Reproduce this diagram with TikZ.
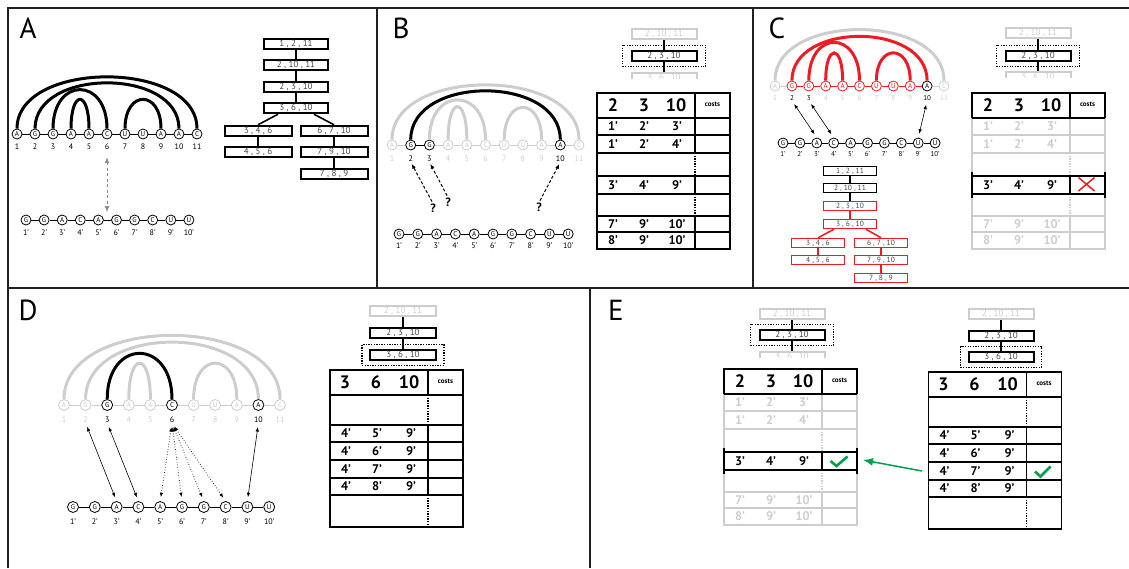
\documentclass[tikz,border=0pt]{standalone}
\usepackage{fontspec}
\setmainfont{PT Sans}
\usepackage{tikz}
\usetikzlibrary{arrows.meta,calc,fit,positioning}
\definecolor{fade}{RGB}{205,205,205}
\definecolor{pairred}{RGB}{237,28,36}
\definecolor{okgreen}{RGB}{0,160,75}
\definecolor{framegray}{RGB}{35,31,32}
\definecolor{boxtext}{RGB}{70,70,72}
\definecolor{guidegray}{RGB}{140,140,140}

\begin{document}
\begin{tikzpicture}[x=1pt,y=-1pt,
  nuc/.style={circle,draw,fill=white,line width=0.8pt,minimum size=10pt,inner sep=0pt,font=\fontsize{7}{7}\selectfont},
  bon/.style={draw=black,text=black},
  boff/.style={draw=fade,text=fade},
  bred/.style={draw=pairred,text=pairred},
  idx/.style={inner sep=0pt,font=\fontsize{8}{8}\selectfont},
  bond/.style={line width=3pt},
  seg/.style={line width=0.9pt},
  tbox/.style={draw,line width=2pt,minimum width=64pt,minimum height=10.5pt,inner sep=0pt,text=boxtext,font=\fontsize{9}{9}\selectfont},
  sbox/.style={draw,line width=1.7pt,minimum width=53pt,minimum height=8.8pt,inner sep=0pt,text=boxtext,font=\fontsize{7.5}{7.5}\selectfont},
  dim/.style={draw=fade,text=fade},
  focus/.style={draw=black,line width=1.3pt,dash pattern=on 1.3pt off 1.3pt,inner xsep=8pt,inner ysep=4.5pt},
  panel/.style={inner sep=0pt,font=\fontsize{29}{29}\selectfont},
  tline/.style={line width=1.7pt},
  rline/.style={line width=1.1pt},
  hd/.style={inner sep=0pt,font=\bfseries\fontsize{18}{18}\selectfont},
  cell/.style={inner sep=0pt,font=\bfseries\fontsize{12.5}{12.5}\selectfont},
  cst/.style={inner sep=0pt,font=\bfseries\fontsize{7}{7}\selectfont},
  qm/.style={inner sep=0pt,font=\bfseries\fontsize{12}{12}\selectfont},
  qarrow/.style={-{Latex[length=5pt,width=4pt]},line width=1pt,dash pattern=on 3pt off 2pt,shorten <=2pt,shorten >=2pt},
  duo/.style={{Latex[length=4.5pt,width=3.5pt]}-{Latex[length=4.5pt,width=3.5pt]},line width=0.6pt,shorten <=4pt,shorten >=4pt},
  frameline/.style={draw=framegray,line width=2.5pt}
]
\useasboundingbox (0,0) rectangle (1129,568);

\draw[frameline] (8,568) -- (8,8) -- (1129,8);
\draw[frameline] (8,288) -- (1129,288);
\draw[frameline] (377,8) -- (377,288) (753,8) -- (753,288) (590,288) -- (590,568);

\node[panel] (labA) at (28,28) {A};
\node[panel] (labB) at (401,28) {B};
\node[panel] (labC) at (777,28) {C};
\node[panel] (labD) at (28,310) {D};
\node[panel] (labE) at (616,310) {E};

% panel A
\foreach \nt [count=\i] in {A,G,G,A,A,C,U,U,A,A,C} {
  \node[nuc,bon] (a\i) at ({17+18*(\i-1)},134) {\nt};
  \node[idx] (an\i) at ($(a\i)+(0,13)$) {\i};
}
\foreach \i in {1,...,10} {\pgfmathtruncatemacro\j{\i+1}\draw[seg] (a\i) -- (a\j);}
\draw[bond] (a1.north) .. controls +(0,-69) and +(0,-69) .. (a11.north);
\draw[bond] (a2.north) .. controls +(0,-61) and +(0,-61) .. (a10.north);
\draw[bond] (a3.north) .. controls +(0,-52) and +(0,-52) .. (a6.north);
\draw[bond] (a4.north) .. controls +(0,-39) and +(0,-39) .. (a5.north);
\draw[bond] (a7.north) .. controls +(0,-39) and +(0,-39) .. (a9.north);
\foreach \nt [count=\i] in {G,G,A,C,A,G,G,C,U,U} {
  \node[nuc,bon] (ap\i) at ({26+18.1*(\i-1)},220) {\nt};
  \node[idx] (apn\i) at ($(ap\i)+(0,13)$) {\i’};
}
\foreach \i in {1,...,9} {\pgfmathtruncatemacro\j{\i+1}\draw[seg] (ap\i) -- (ap\j);}
\draw[draw=guidegray,line width=1pt,dash pattern=on 3pt off 2.5pt] ($(an6.south)+(0,12)$) -- ($(an6.south)+(0,57)$);
\draw[-{Latex[length=6pt,width=5pt]},draw=guidegray,fill=guidegray,line width=1pt] ($(an6.south)+(0,13)$) -- ($(an6.south)+(0,7)$);
\draw[-{Latex[length=6pt,width=5pt]},draw=guidegray,fill=guidegray,line width=1pt] ($(an6.south)+(0,56)$) -- ($(an6.south)+(0,62)$);

\node[tbox] (at1) at (296,44) {1 , 2 , 11};
\node[tbox] (at2) at (296,65) {2 , 10 , 11};
\node[tbox] (at3) at (296,87) {2 , 3 , 10};
\node[tbox] (at4) at (296,108) {3 , 6 , 10};
\node[tbox,minimum width=67pt] (at5) at (258,131) {3 , 4 , 6};
\node[tbox,minimum width=67pt] (at6) at (334,131) {6 , 7 , 10};
\node[tbox,minimum width=67pt] (at7) at (258,152) {4 , 5 , 6};
\node[tbox,minimum width=67pt] (at8) at (334,152) {7 , 9 , 10};
\node[tbox,minimum width=67pt] (at9) at (334,174) {7 , 8 , 9};
\draw[line width=2pt] (at1) -- (at2) (at2) -- (at3) (at3) -- (at4) (at5) -- (at7) (at6) -- (at8) (at8) -- (at9);
\draw[line width=1.6pt] ($(at4.south)+(-18,0)$) -- (at5.north) ($(at4.south)+(18,0)$) -- (at6.north);

% panel B
\foreach \nt/\st/\lc [count=\i] in {A/boff/fade,G/bon/black,G/bon/black,A/boff/fade,A/boff/fade,C/boff/fade,U/boff/fade,U/boff/fade,A/boff/fade,A/bon/black,C/boff/fade} {
  \node[nuc,\st] (b\i) at ({392+18.7*(\i-1)},145) {\nt};
  \node[idx,text=\lc] (bn\i) at ($(b\i)+(0,14)$) {\i};
}
\foreach \lc [count=\i] in {fade,black,fade,fade,fade,fade,fade,fade,fade,fade} {\pgfmathtruncatemacro\j{\i+1}\draw[seg,draw=\lc] (b\i) -- (b\j);}
\draw[bond,draw=fade] (b1.north) .. controls +(0,-73) and +(0,-73) .. (b11.north);
\draw[bond,draw=fade] (b3.north) .. controls +(0,-53) and +(0,-53) .. (b6.north);
\draw[bond,draw=fade] (b4.north) .. controls +(0,-44) and +(0,-44) .. (b5.north);
\draw[bond,draw=fade] (b7.north) .. controls +(0,-43) and +(0,-43) .. (b9.north);
\draw[bond] (b2.north) .. controls +(0,-65) and +(0,-65) .. (b10.north);
\foreach \nt [count=\i] in {G,G,A,C,A,G,G,C,U,U} {
  \node[nuc,bon] (bp\i) at ({399+18.8*(\i-1)},234) {\nt};
  \node[idx] (bpn\i) at ($(bp\i)+(0,12)$) {\i’};
}
\foreach \i in {1,...,9} {\pgfmathtruncatemacro\j{\i+1}\draw[seg] (bp\i) -- (bp\j);}
\node[qm] (q1) at (433,208) {?};
\node[qm] (q2) at (448,202) {?};
\node[qm] (q3) at (539,207) {?};
\draw[qarrow] (q1.north) -- (bn2.south);
\draw[qarrow] (q2.north) -- (bn3.south);
\draw[qarrow] (q3.north) -- (bn10.south);

\node[tbox,dim,minimum width=65pt] (bm1) at (664,34) {2 , 10 , 11};
\node[tbox,minimum width=65pt] (bm2) at (664,56) {2 , 3 , 10};
\begin{scope}
  \clip (620,68) rectangle (710,78.5);
  \node[tbox,dim,minimum width=65pt] (bm3) at (664,78) {3 , 6 , 10};
\end{scope}
\draw[line width=1.6pt] (bm1) -- (bm2) (bm2) -- (bm3.north);
\node[focus,fit=(bm2)] (bf) {};

\begin{scope}[shift={(597,93)}]
  \draw[tline] (0,0) rectangle (133,156);
  \draw[line width=2pt] (0,25) -- (133,25);
  \foreach \y in {42,60,83,101,123,139} \draw[rline] (0,\y) -- (133,\y);
  \draw[tline] (98,0) -- (98,60) (98,83) -- (98,101) (98,123) -- (98,156);
  \draw[tline,dash pattern=on 1.3pt off 1.3pt] (98,60) -- (98,83) (98,101) -- (98,123);
  \node[hd] (bh1) at (16,12.5) {2};
  \node[hd] (bh2) at (47,12.5) {3};
  \node[hd] (bh3) at (79,12.5) {10};
  \node[cst] (bh4) at (115.5,11) {costs};
  \foreach \ya/\pa/\pb/\pc [count=\rr] in {33.5/1/2/3,51/1/2/4,92/3/4/9,131/7/9/10,147.5/8/9/10} {
    \node[cell] (bc\rr-1) at (16,\ya) {\pa’};
    \node[cell] (bc\rr-2) at (47,\ya) {\pb’};
    \node[cell] (bc\rr-3) at (80,\ya) {\pc’};
  }
\end{scope}

% panel C
\foreach \nt/\st/\lc [count=\i] in {A/boff/fade,G/bred/black,G/bred/black,A/bred/fade,A/bred/fade,C/bred/fade,U/bred/fade,U/bred/fade,A/bred/fade,A/bon/black,C/boff/fade} {
  \node[nuc,\st] (c\i) at ({775+16.9*(\i-1)},86) {\nt};
  \node[idx,text=\lc,font=\fontsize{7}{7}\selectfont] (cn\i) at ($(c\i)+(0,12)$) {\i};
}
\foreach \lc [count=\i] in {fade,pairred,pairred,pairred,pairred,pairred,pairred,pairred,pairred,fade} {\pgfmathtruncatemacro\j{\i+1}\draw[seg,draw=\lc] (c\i) -- (c\j);}
\draw[bond,draw=fade] (c1.north) .. controls +(0,-68) and +(0,-68) .. (c11.north);
\draw[bond,draw=pairred] (c2.north) .. controls +(0,-59) and +(0,-59) .. (c10.north);
\draw[bond,draw=pairred] (c3.north) .. controls +(0,-51) and +(0,-51) .. (c6.north);
\draw[bond,draw=pairred] (c4.north) .. controls +(0,-37) and +(0,-37) .. (c5.north);
\draw[bond,draw=pairred] (c7.north) .. controls +(0,-37) and +(0,-37) .. (c9.north);
\foreach \nt [count=\i] in {G,G,A,C,A,G,G,C,U,U} {
  \node[nuc,bon] (cp\i) at ({783+16.9*(\i-1)},143) {\nt};
  \node[idx,font=\fontsize{7}{7}\selectfont] (cpn\i) at ($(cp\i)+(0,11)$) {\i’};
}
\foreach \i in {1,...,9} {\pgfmathtruncatemacro\j{\i+1}\draw[seg] (cp\i) -- (cp\j);}
\draw[duo] (cn2.south) -- (cp3.north);
\draw[duo] (cn3.south) -- (cp4.north);
\draw[duo] (cn10.south) -- (cp9.north);

\node[sbox] (ct1) at (850,171) {1 , 2 , 11};
\node[sbox] (ct2) at (850,188) {2 , 10 , 11};
\node[sbox,draw=pairred] (ct3) at (850,206) {2 , 3 , 10};
\node[sbox,draw=pairred] (ct4) at (850,224) {3 , 6 , 10};
\node[sbox,draw=pairred] (ct5) at (818,243) {3 , 4 , 6};
\node[sbox,draw=pairred] (ct6) at (881,243) {6 , 7 , 10};
\node[sbox,draw=pairred] (ct7) at (818,260) {4 , 5 , 6};
\node[sbox,draw=pairred] (ct8) at (881,260) {7 , 9 , 10};
\node[sbox,draw=pairred] (ct9) at (881,278) {7 , 8 , 9};
\draw[line width=1.7pt] (ct1) -- (ct2) (ct2) -- (ct3);
\draw[line width=1.7pt,draw=pairred] (ct3) -- (ct4) (ct5) -- (ct7) (ct6) -- (ct8) (ct8) -- (ct9);
\draw[line width=1.5pt,draw=pairred] ($(ct4.south)+(-16,0)$) -- (ct5.north) ($(ct4.south)+(16,0)$) -- (ct6.north);

\node[tbox,dim,minimum width=65pt] (cm1) at (1038,33) {2 , 10 , 11};
\node[tbox,minimum width=65pt] (cm2) at (1038,56) {2 , 3 , 10};
\begin{scope}
  \clip (995,68) rectangle (1085,77.5);
  \node[tbox,dim,minimum width=65pt] (cm3) at (1038,77) {3 , 6 , 10};
\end{scope}
\draw[line width=1.6pt] (cm1) -- (cm2) (cm2) -- (cm3.north);
\node[focus,fit=(cm2)] (cf) {};

\begin{scope}[shift={(972,93)}]
  \draw[tline,draw=fade] (0,25) -- (0,156) -- (133,156) -- (133,25);
  \foreach \y in {42,60,123,139} \draw[rline,draw=fade] (0,\y) -- (133,\y);
  \draw[tline,draw=fade] (98,25) -- (98,60) (98,123) -- (98,156);
  \draw[tline,draw=fade,dash pattern=on 1.3pt off 1.3pt] (98,60) -- (98,83) (98,101) -- (98,123);
  \draw[tline] (0,25) -- (0,0) -- (133,0) -- (133,25) (98,0) -- (98,25);
  \draw[line width=2pt] (0,25) -- (133,25);
  \draw[line width=1.8pt] (0,83) -- (133,83) (0,101) -- (133,101) (98,83) -- (98,101);
  \draw[line width=1.8pt] (0,79) -- (0,105) (133,79) -- (133,105);
  \node[hd] (ch1) at (16,12.5) {2};
  \node[hd] (ch2) at (47,12.5) {3};
  \node[hd] (ch3) at (79,12.5) {10};
  \node[cst] (ch4) at (115.5,11) {costs};
  \foreach \ya/\pa/\pb/\pc/\lc [count=\rr] in {33.5/1/2/3/fade,51/1/2/4/fade,92/3/4/9/black,131/7/9/10/fade,147.5/8/9/10/fade} {
    \node[cell,text=\lc] (cc\rr-1) at (16,\ya) {\pa’};
    \node[cell,text=\lc] (cc\rr-2) at (47,\ya) {\pb’};
    \node[cell,text=\lc] (cc\rr-3) at (80,\ya) {\pc’};
  }
  \draw[pairred,line width=1.5pt] (106.5,84.5) -- (122.5,98) (106.5,98) -- (122.5,84.5);
\end{scope}

% panel D
\foreach \nt/\st/\lc [count=\i] in {A/boff/fade,G/boff/fade,G/bon/black,A/boff/fade,A/boff/fade,C/bon/black,U/boff/fade,U/boff/fade,A/boff/fade,A/bon/black,C/boff/fade} {
  \node[nuc,\st,minimum size=11pt] (d\i) at ({64+21.6*(\i-1)},405) {\nt};
  \node[idx,text=\lc] (dn\i) at ($(d\i)+(0,15)$) {\i};
}
\foreach \i in {1,...,10} {\pgfmathtruncatemacro\j{\i+1}\draw[seg,draw=fade] (d\i) -- (d\j);}
\draw[bond,draw=fade] (d1.north) .. controls +(0,-85) and +(0,-85) .. (d11.north);
\draw[bond,draw=fade] (d2.north) .. controls +(0,-76) and +(0,-76) .. (d10.north);
\draw[bond,draw=fade] (d4.north) .. controls +(0,-48) and +(0,-48) .. (d5.north);
\draw[bond,draw=fade] (d7.north) .. controls +(0,-48) and +(0,-48) .. (d9.north);
\draw[bond] (d3.north) .. controls +(0,-61) and +(0,-61) .. (d6.north);
\foreach \nt [count=\i] in {G,G,A,C,A,G,G,C,U,U} {
  \node[nuc,bon,minimum size=11pt] (dp\i) at ({73+21.8*(\i-1)},507) {\nt};
  \node[idx] (dpn\i) at ($(dp\i)+(0,15)$) {\i’};
}
\foreach \i in {1,...,9} {\pgfmathtruncatemacro\j{\i+1}\draw[seg] (dp\i) -- (dp\j);}
\draw[duo] (dn2.south) -- (dp3.north);
\draw[duo] (dn3.south) -- (dp4.north);
\draw[duo] (dn10.south) -- (dp9.north);
\foreach \k in {5,6,7,8} \draw[duo,dotted,line width=0.8pt] (dn6.south) -- (dp\k.north);

\node[tbox,dim,minimum width=66pt] (dm1) at (403,311) {2 , 10 , 11};
\node[tbox,minimum width=66pt] (dm2) at (403,333) {2 , 3 , 10};
\node[tbox,minimum width=66pt] (dm3) at (403,355) {3 , 6 , 10};
\draw[line width=1.6pt] (dm1) -- (dm2) (dm2) -- (dm3);
\node[focus,fit=(dm3),inner xsep=7pt,inner ysep=4pt] (df) {};

\begin{scope}[shift={(330,370)}]
  \draw[tline] (0,0) rectangle (133,157);
  \draw[line width=2pt] (0,25) -- (133,25);
  \foreach \y in {55,72,90,108,125} \draw[rline] (0,\y) -- (133,\y);
  \draw[tline] (98,0) -- (98,25) (98,55) -- (98,125);
  \draw[tline,dash pattern=on 1.3pt off 1.3pt] (98,25) -- (98,55) (98,125) -- (98,157);
  \node[hd] (dh1) at (15,12.5) {3};
  \node[hd] (dh2) at (46,12.5) {6};
  \node[hd] (dh3) at (79,12.5) {10};
  \node[cst] (dh4) at (115.5,11) {costs};
  \foreach \ya/\pb [count=\rr] in {63.5/5,81/6,99/7,116.5/8} {
    \node[cell] (dc\rr-1) at (16,\ya) {4’};
    \node[cell] (dc\rr-2) at (47,\ya) {\pb’};
    \node[cell] (dc\rr-3) at (81,\ya) {9’};
  }
\end{scope}

% panel E
\node[tbox,dim,minimum width=65pt] (em1) at (792,314) {2 , 10 , 11};
\node[tbox,minimum width=65pt] (em2) at (792,335) {2 , 3 , 10};
\begin{scope}
  \clip (745,348) rectangle (840,357.5);
  \node[tbox,dim,minimum width=65pt] (em3) at (792,357) {3 , 6 , 10};
\end{scope}
\draw[line width=1.6pt] (em1) -- (em2) (em2) -- (em3.north);
\node[focus,fit=(em2)] (ef) {};

\begin{scope}[shift={(724,369)}]
  \draw[tline,draw=fade] (0,25) -- (0,156) -- (133,156) -- (133,25);
  \foreach \y in {42,60,123,139} \draw[rline,draw=fade] (0,\y) -- (133,\y);
  \draw[tline,draw=fade] (98,25) -- (98,60) (98,123) -- (98,156);
  \draw[tline,draw=fade,dash pattern=on 1.3pt off 1.3pt] (98,60) -- (98,83) (98,101) -- (98,123);
  \draw[tline] (0,25) -- (0,0) -- (133,0) -- (133,25) (98,0) -- (98,25);
  \draw[line width=2pt] (0,25) -- (133,25);
  \draw[line width=1.8pt] (0,83) -- (133,83) (0,101) -- (133,101) (98,83) -- (98,101);
  \draw[line width=1.8pt] (0,79) -- (0,105) (133,79) -- (133,105);
  \node[hd] (eh1) at (16,12.5) {2};
  \node[hd] (eh2) at (47,12.5) {3};
  \node[hd] (eh3) at (79,12.5) {10};
  \node[cst] (eh4) at (115.5,11) {costs};
  \foreach \ya/\pa/\pb/\pc/\lc [count=\rr] in {33.5/1/2/3/fade,51/1/2/4/fade,92/3/4/9/black,131/7/9/10/fade,147.5/8/9/10/fade} {
    \node[cell,text=\lc] (ec\rr-1) at (16,\ya) {\pa’};
    \node[cell,text=\lc] (ec\rr-2) at (47,\ya) {\pb’};
    \node[cell,text=\lc] (ec\rr-3) at (80,\ya) {\pc’};
  }
  \draw[okgreen,line width=2.6pt] (106.5,92) -- (112.5,97) -- (123.5,87.5);
\end{scope}

\node[tbox,dim,minimum width=65pt] (fm1) at (1001,314) {2 , 10 , 11};
\node[tbox,minimum width=65pt] (fm2) at (1001,336) {2 , 3 , 10};
\node[tbox,minimum width=65pt] (fm3) at (1001,357) {3 , 6 , 10};
\draw[line width=1.6pt] (fm1) -- (fm2) (fm2) -- (fm3);
\node[focus,fit=(fm3),inner xsep=7pt,inner ysep=4pt] (ff) {};

\begin{scope}[shift={(928.5,372)}]
  \draw[tline] (0,0) rectangle (133,157);
  \draw[line width=2pt] (0,25) -- (133,25);
  \foreach \y in {55,72,90,108,125} \draw[rline] (0,\y) -- (133,\y);
  \draw[tline] (98,0) -- (98,25) (98,55) -- (98,125);
  \draw[tline,dash pattern=on 1.3pt off 1.3pt] (98,25) -- (98,55) (98,125) -- (98,157);
  \node[hd] (fh1) at (15,12.5) {3};
  \node[hd] (fh2) at (46,12.5) {6};
  \node[hd] (fh3) at (79,12.5) {10};
  \node[cst] (fh4) at (115.5,11) {costs};
  \foreach \ya/\pb [count=\rr] in {63.5/5,81/6,99/7,116.5/8} {
    \node[cell] (fc\rr-1) at (16,\ya) {4’};
    \node[cell] (fc\rr-2) at (47,\ya) {\pb’};
    \node[cell] (fc\rr-3) at (81,\ya) {9’};
  }
  \draw[okgreen,line width=2.6pt] (106.5,99.5) -- (112,104.5) -- (122,94.5);
\end{scope}

\coordinate (gstart) at (922,471);
\coordinate (gend) at (863,460);
\draw[-{Latex[length=10pt,width=8pt]},draw=okgreen,fill=okgreen,line width=1.5pt] (gstart) -- (gend);
\end{tikzpicture}
\end{document}
